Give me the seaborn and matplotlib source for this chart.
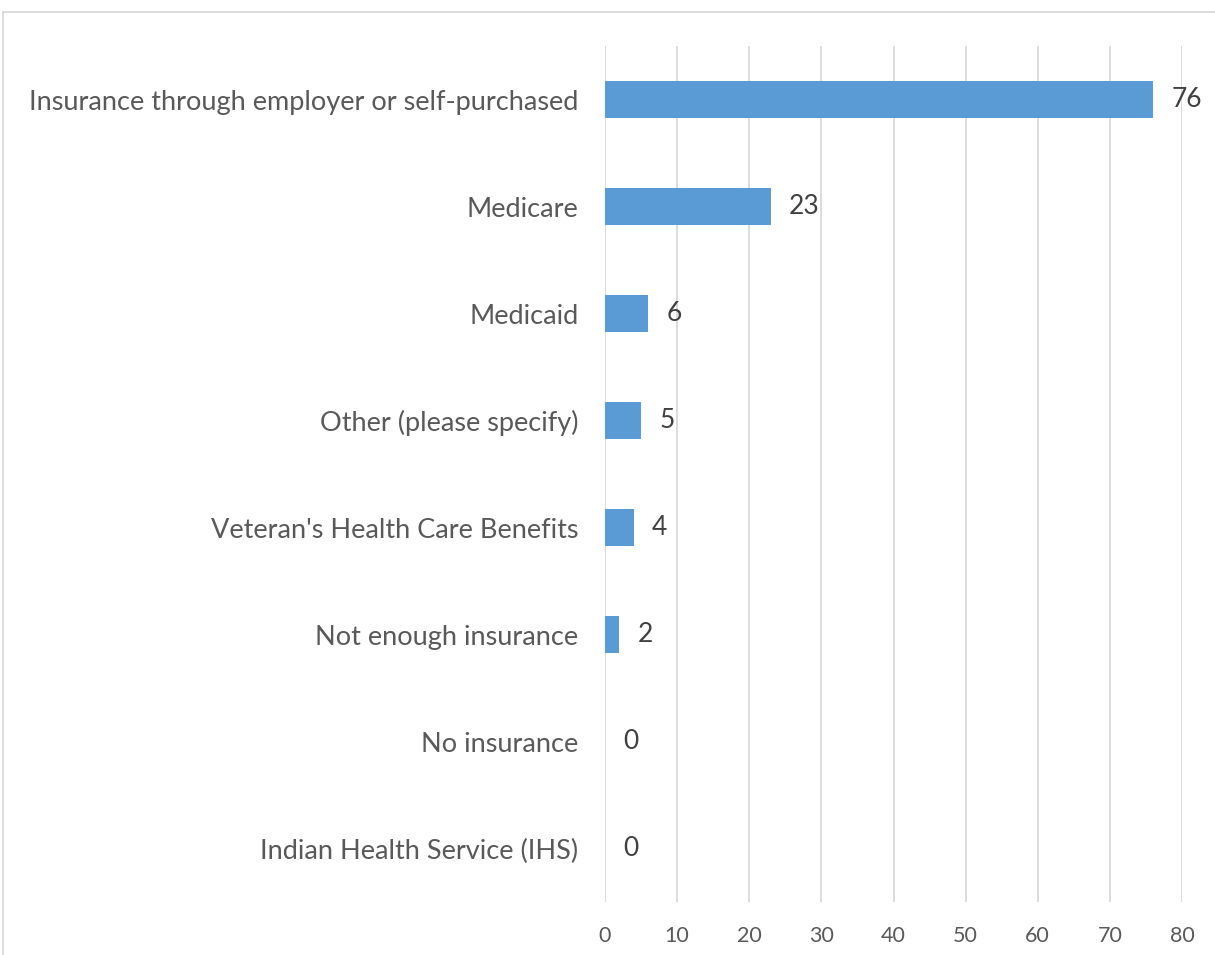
import matplotlib
matplotlib.use("Agg")
import matplotlib.pyplot as plt
import seaborn as sns
import pandas as pd
from matplotlib.patches import Rectangle

# === Data ===
categories = [
    "Insurance through employer or self-purchased",
    "Medicare",
    "Medicaid",
    "Other (please specify)",
    "Veteran's Health Care Benefits",
    "Not enough insurance",
    "No insurance",
    "Indian Health Service (IHS)",
]
counts = [76, 23, 6, 5, 4, 2, 0, 0]
x_ticks = [0, 10, 20, 30, 40, 50, 60, 70, 80]

df = pd.DataFrame({"category": categories, "count": counts})

# === Style ===
sns.set_theme(style="white")
plt.rcParams["font.family"] = ["Lato", "DejaVu Sans"]
text_color = "#595959"
grid_color = "#d9d9d9"
bar_color = "#5B9BD5"

fig = plt.figure(figsize=(12.15, 9.55), dpi=100)
ax = fig.add_axes([605 / 1215, 1 - 902 / 955, 577 / 1215, 856 / 955])

sns.barplot(data=df, x="count", y="category", orient="h", color=bar_color,
            width=0.35, saturation=1, linewidth=0, ax=ax, zorder=3)

ax.set_xlim(0, 80)
ax.set_ylim(len(categories) - 0.5, -0.5)
ax.set_xticks(x_ticks)
ax.set_xticklabels([str(t) for t in x_ticks])
ax.xaxis.grid(True, color=grid_color, linewidth=1.3, zorder=0)
ax.yaxis.grid(False)
for s in ax.spines.values():
    s.set_visible(False)
ax.tick_params(axis="x", length=0, pad=17, labelsize=15.5, labelcolor=text_color)
ax.tick_params(axis="y", length=0, pad=19, labelsize=19.5, labelcolor=text_color)
ax.set_xlabel("")
ax.set_ylabel("")

for cont in ax.containers:
    ax.bar_label(cont, labels=[str(v) for v in counts], padding=13,
                 fontsize=19, color="#404040")

# chart border (cropped Excel chart frame)
fig.patches.append(Rectangle((3 / 1215, -0.05), 1.1, 1 - 12 / 955 + 0.05,
                             transform=fig.transFigure, fill=False,
                             edgecolor=grid_color, linewidth=1.3))

fig.savefig("out.png", dpi=100)
